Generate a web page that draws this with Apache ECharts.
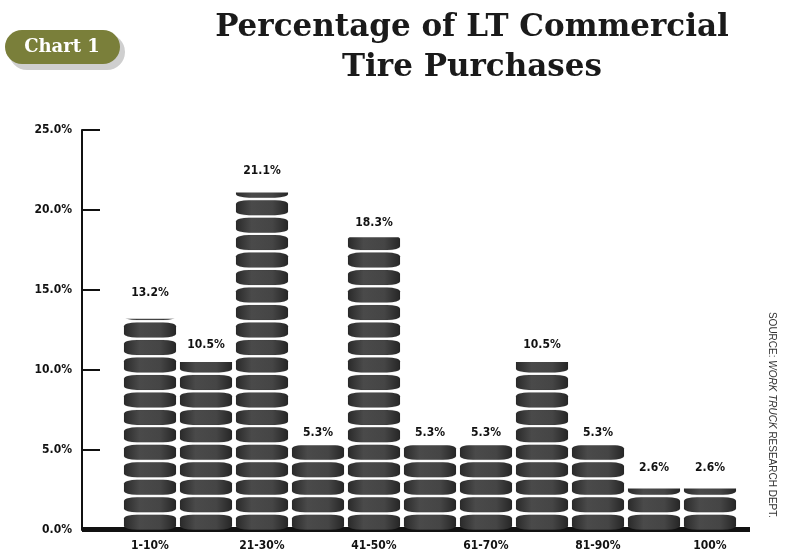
<!DOCTYPE html>
<html><head><meta charset="utf-8">
<script src="https://cdn.jsdelivr.net/npm/echarts@6/dist/echarts.min.js"></script>
<style>html,body{margin:0;padding:0;background:#fff}#main{width:789px;height:559px}</style>
</head><body><div id="main"></div>
<script>
var categories = ['1-10%', '11-20%', '21-30%', '31-40%', '41-50%', '51-60%', '61-70%', '71-80%', '81-90%', '91-99%', '100%'];
var values = [13.2, 10.5, 21.1, 5.3, 18.3, 5.3, 5.3, 10.5, 5.3, 2.6, 2.6];
var labelFont = "'Liberation Sans Narrow', 'DejaVu Sans Condensed', sans-serif";

var chart = echarts.init(document.getElementById('main'));
var tireColor = new echarts.graphic.LinearGradient(0, 0, 1, 0, [
  { offset: 0, color: '#2a2a2a' },
  { offset: 0.3, color: '#4a4a4a' },
  { offset: 0.7, color: '#454545' },
  { offset: 1, color: '#262626' }
]);
chart.setOption({
  animation: false,
  grid: { left: 122, right: 51, top: 130, bottom: 29 },
  xAxis: {
    type: 'category',
    data: categories,
    axisLine: { show: false },
    axisTick: { show: false },
    axisLabel: { color: '#111', fontFamily: labelFont, fontWeight: 'bold', fontSize: 12, margin: 10 }
  },
  yAxis: {
    type: 'value',
    min: 0, max: 25, interval: 5,
    offset: 40,
    axisLine: { show: true, lineStyle: { color: '#111', width: 2 } },
    axisTick: { show: true, inside: true, length: 18, lineStyle: { color: '#111', width: 2 } },
    splitLine: { show: false },
    axisLabel: { color: '#111', fontFamily: labelFont, fontWeight: 'bold', fontSize: 12, margin: 10,
      formatter: function (v) { return v.toFixed(1) + '%'; } }
  },
  series: [{
    type: 'pictorialBar',
    data: values,
    symbol: 'roundRect',
    symbolSize: [52, 15],
    symbolRepeat: true,
    symbolMargin: 1,
    symbolClip: true,
    itemStyle: { color: tireColor, borderColor: '#111', borderWidth: 1 },
    label: { show: true, position: 'top', distance: 6, color: '#111', fontFamily: labelFont,
      fontWeight: 'bold', fontSize: 12, formatter: function (p) { return p.value.toFixed(1) + '%'; } }
  }],
  graphic: [
    { type: 'rect', shape: { x: 82, y: 527, width: 668, height: 5 }, style: { fill: '#111' } },
    { type: 'rect', shape: { x: 9, y: 34, width: 116, height: 36, r: 18 }, style: { fill: '#cfcfcf' } },
    { type: 'rect', shape: { x: 5, y: 30, width: 115, height: 34, r: 17 }, style: { fill: '#7a7f3a' } },
    { type: 'text', x: 62, y: 47, style: { text: 'Chart 1', fill: '#fff', font: "bold 18px 'DejaVu Serif', serif", align: 'center', verticalAlign: 'middle' } },
    { type: 'text', x: 472, y: 28, style: { text: 'Percentage of LT Commercial', fill: '#1a1a1a', font: "bold 31px 'DejaVu Serif', serif", align: 'center', verticalAlign: 'middle' } },
    { type: 'text', x: 472, y: 68, style: { text: 'Tire Purchases', fill: '#1a1a1a', font: "bold 31px 'DejaVu Serif', serif", align: 'center', verticalAlign: 'middle' } },
    { type: 'text', x: 772, y: 415, rotation: -Math.PI / 2,
      style: { text: '{a|SOURCE: }{b|WORK TRUCK}{a| RESEARCH DEPT.}', align: 'center', verticalAlign: 'middle',
        rich: { a: { fontSize: 10, fill: '#333', fontFamily: 'Liberation Sans Narrow, sans-serif' },
                b: { fontSize: 10, fill: '#333', fontStyle: 'italic', fontFamily: 'Liberation Sans Narrow, sans-serif' } } } }
  ]
});
</script></body></html>
